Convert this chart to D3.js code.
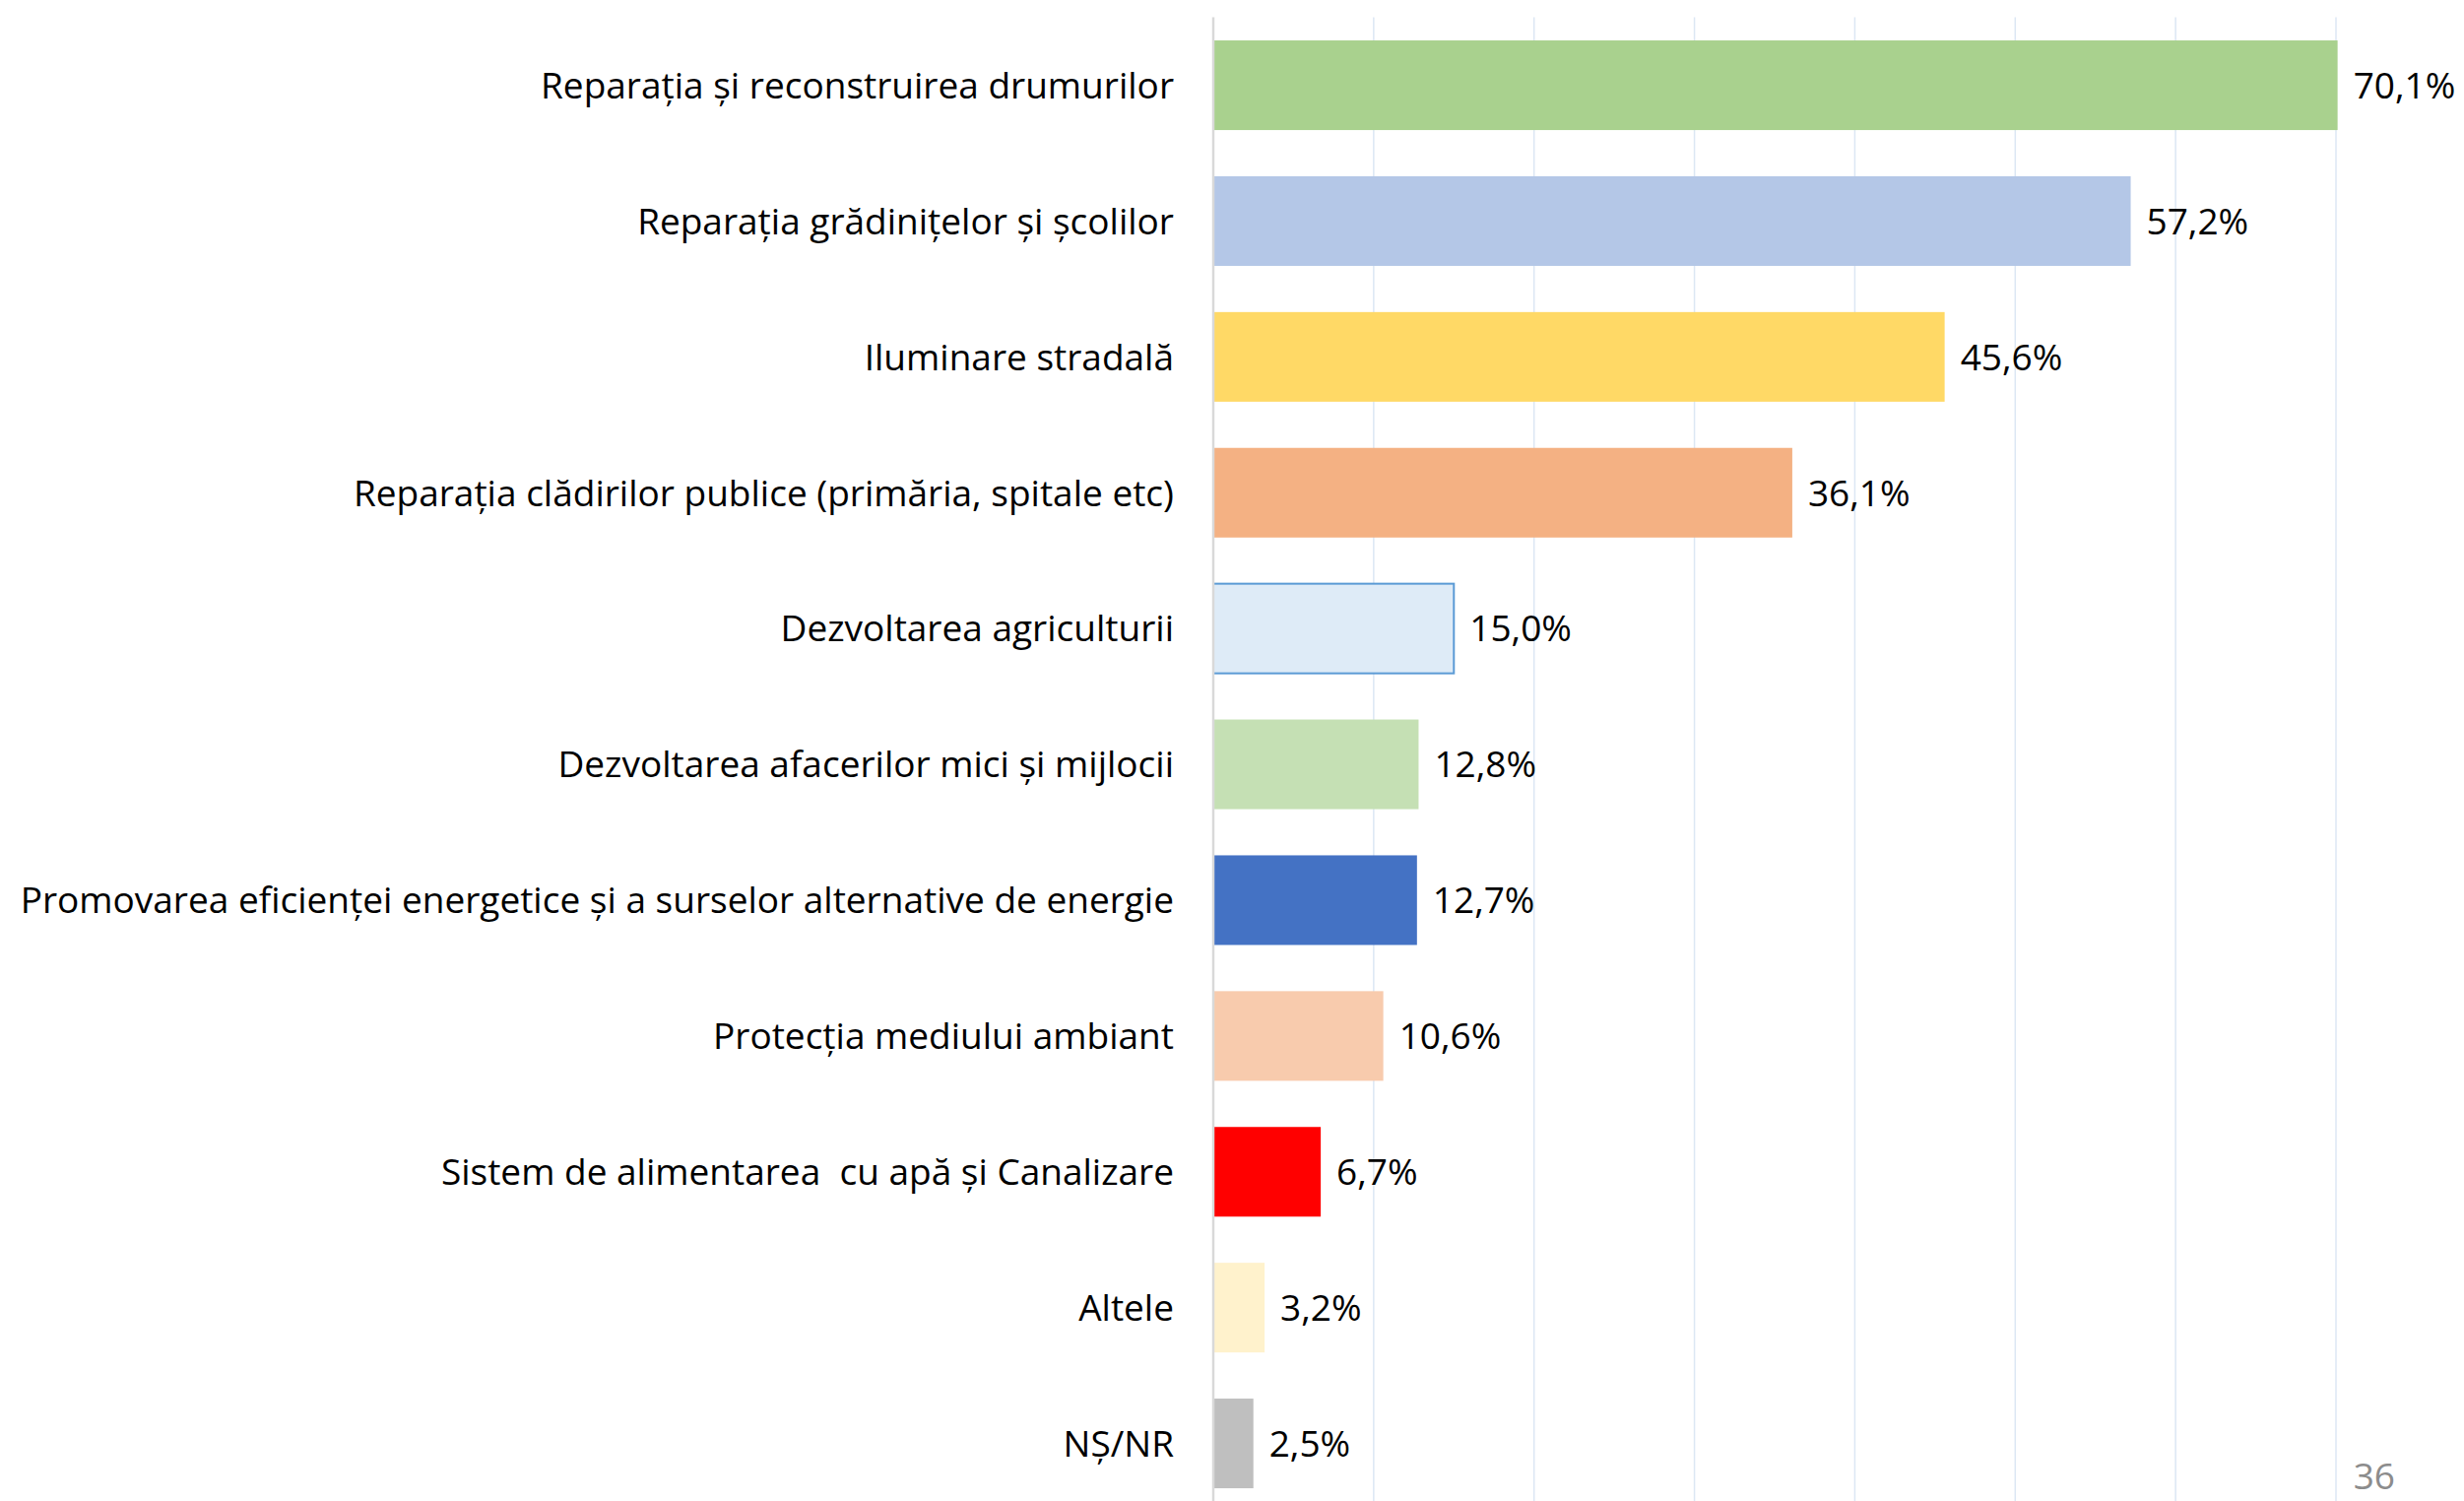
<!DOCTYPE html>
<html>
<head>
<meta charset="utf-8">
<script src="https://cdn.jsdelivr.net/npm/d3@7"></script>
<style>
	body { margin: 0; background: #fff; }
	text { font-family: "Open Sans", Lato, sans-serif; white-space: pre; }
</style>
</head>
<body>
<div id="chart"></div>
<script>
const categories = [
	"Reparația și reconstruirea drumurilor",
	"Reparația grădinițelor și școlilor",
	"Iluminare stradală",
	"Reparația clădirilor publice (primăria, spitale etc)",
	"Dezvoltarea agriculturii",
	"Dezvoltarea afacerilor mici și mijlocii",
	"Promovarea eficienței energetice și a surselor alternative de energie",
	"Protecția mediului ambiant",
	"Sistem de alimentarea  cu apă și Canalizare",
	"Altele",
	"NȘ/NR"
];
const values = [70.1, 57.2, 45.6, 36.1, 15.0, 12.8, 12.7, 10.6, 6.7, 3.2, 2.5];
const barColors = ["#A9D18E", "#B4C7E7", "#FFD966", "#F4B183", "#DEEBF7", "#C5E0B4",
	"#4472C4", "#F8CBAD", "#FF0000", "#FFF2CC", "#BFBFBF"];
const gridTicks = [10, 20, 30, 40, 50, 60, 70];
const pageNumber = "36";

const W = 2502, H = 1524;
const margin = { left: 1232, top: 17.6 };
const fontSize = "37px";

const svg = d3.select("#chart")
	.append("svg")
	.attr("width", W)
	.attr("height", H);

// scales
const x = d3.scaleLinear()
	.domain([0, 70])
	.range([margin.left, margin.left + 1140]);

const y = d3.scaleBand()
	.domain(categories)
	.range([margin.top, margin.top + 11 * 137.9])
	.paddingInner(0.34)
	.paddingOuter(0.17);

// gridlines
svg.append("g")
	.selectAll("line")
	.data(gridTicks)
	.enter()
	.append("line")
	.attr("x1", d => x(d))
	.attr("x2", d => x(d))
	.attr("y1", margin.top)
	.attr("y2", H)
	.attr("stroke", "#DCE7F4")
	.attr("stroke-width", 1.5);

// bars
svg.append("g")
	.selectAll("rect")
	.data(values)
	.enter()
	.append("rect")
	.attr("x", x(0))
	.attr("y", (d, i) => y(categories[i]))
	.attr("width", d => x(d) - x(0))
	.attr("height", y.bandwidth())
	.attr("fill", (d, i) => barColors[i])
	.attr("stroke", (d, i) => i === 4 ? "#5B9BD5" : "none")
	.attr("stroke-width", 2);

// category axis (no ticks, gray line)
const yAxis = svg.append("g")
	.attr("transform", `translate(${x(0)},0)`)
	.call(d3.axisLeft(y).tickSize(0).tickPadding(40));
yAxis.select(".domain")
	.attr("d", `M0,${margin.top}V${H}`)
	.attr("stroke", "#D9D9D9")
	.attr("stroke-width", 2.5);
yAxis.selectAll("text")
	.attr("font-family", "'Open Sans', Lato, sans-serif")
	.attr("font-size", fontSize)
	.attr("fill", "#000")
	.attr("dy", "0.36em");

// value labels
svg.append("g")
	.selectAll("text")
	.data(values)
	.enter()
	.append("text")
	.attr("x", d => x(d) + 16)
	.attr("y", (d, i) => y(categories[i]) + y.bandwidth() / 2)
	.attr("dy", "0.36em")
	.attr("font-size", fontSize)
	.attr("fill", "#000")
	.text(d => d.toFixed(1).replace(".", ",") + "%");

// page number
svg.append("text")
	.attr("x", 2432)
	.attr("y", 1512)
	.attr("text-anchor", "end")
	.attr("font-size", "37px")
	.attr("fill", "#8C8C8C")
	.text(pageNumber);
</script>
</body>
</html>
